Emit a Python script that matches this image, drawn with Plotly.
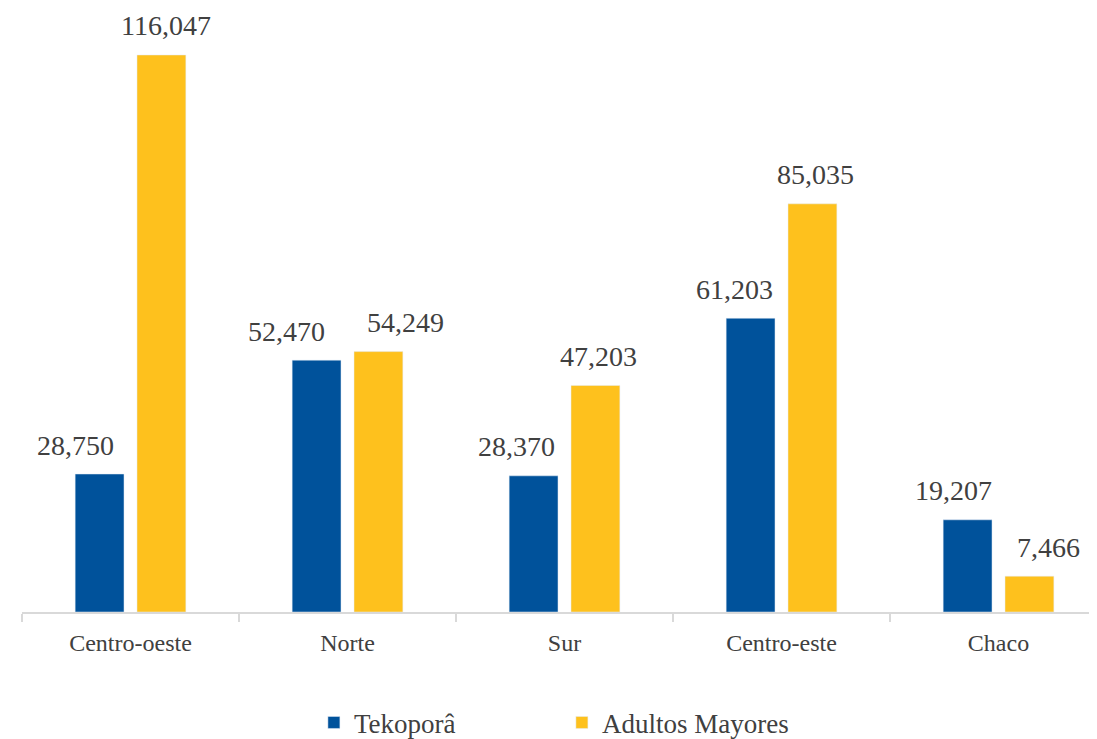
import plotly.graph_objects as go

regiones = ["Centro-oeste", "Norte", "Sur", "Centro-este", "Chaco"]
tekopora = [28750, 52470, 28370, 61203, 19207]
adultos_mayores = [116047, 54249, 47203, 85035, 7466]

FONT = "Liberation Serif"
TEXT_COLOR = "#404040"
BAR_SHIFT = 31  # desplazamiento de cada barra respecto al centro del grupo (px)
# ajustes manuales de las etiquetas, como en el original (px)
DX_TEKOPORA = [-24, -30, -17, -16, -14]
DX_ADULTOS = [4, 27, 3, 3, 19]

fig = go.Figure()
fig.add_trace(
    go.Bar(
        x=regiones,
        y=tekopora,
        name="Tekoporâ",
        marker=dict(color="#00529b"),
    )
)
fig.add_trace(
    go.Bar(
        x=regiones,
        y=adultos_mayores,
        name="Adultos Mayores",
        marker=dict(color="#fec11d"),
    )
)

# etiquetas de valor sobre cada barra
for serie, sign, ajustes in ((tekopora, -1, DX_TEKOPORA), (adultos_mayores, 1, DX_ADULTOS)):
    for region, valor, dx in zip(regiones, serie, ajustes):
        fig.add_annotation(
            x=region,
            y=valor,
            text=f"{valor:,}",
            showarrow=False,
            xshift=sign * BAR_SHIFT + dx,
            yanchor="middle",
            yshift=29,
            font=dict(family=FONT, size=28, color=TEXT_COLOR),
        )

# la página deja 8 px de margen en el body: el lienzo se ajusta a eso
fig.update_layout(
    width=1081,
    height=731,
    margin=dict(l=14, r=0, t=4, b=127),
    plot_bgcolor="white",
    paper_bgcolor="white",
    barmode="group",
    bargap=0.43,
    bargroupgap=0.21,
    font=dict(family=FONT, color=TEXT_COLOR),
    xaxis=dict(
        range=[-0.5, 4.417],
        automargin=False,
        showline=True,
        linecolor="#d9d9d9",
        linewidth=1.5,
        ticks="outside",
        tickson="boundaries",
        ticklen=8,
        tickcolor="#d9d9d9",
        tickwidth=1.5,
        ticklabelstandoff=8,
        tickfont=dict(family=FONT, size=24, color=TEXT_COLOR),
        showgrid=False,
    ),
    yaxis=dict(
        range=[0, 125000],
        visible=False,
        automargin=False,
        showgrid=False,
    ),
    legend=dict(
        orientation="h",
        x=0.506,
        xanchor="center",
        yref="container",
        y=0.022,
        yanchor="middle",
        font=dict(family=FONT, size=27, color=TEXT_COLOR),
        entrywidth=203,
        itemwidth=30,
    ),
    showlegend=True,
)

fig.write_html("out.html")
